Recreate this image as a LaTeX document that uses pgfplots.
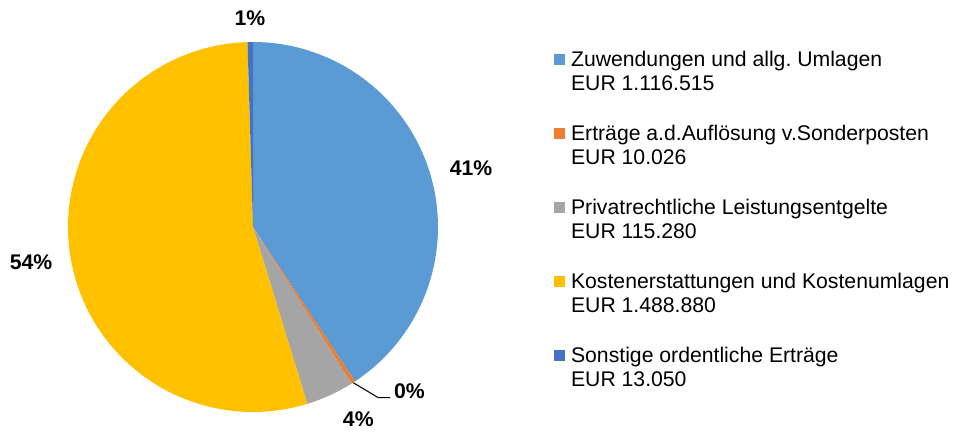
\documentclass[border=0pt]{standalone}
\usepackage{fontspec}
\setmainfont{Liberation Sans}
\usepackage{pgfplots}
\pgfplotsset{compat=1.18}
\definecolor{cA}{HTML}{5B9BD5}
\definecolor{cB}{HTML}{ED7D31}
\definecolor{cC}{HTML}{A5A5A5}
\definecolor{cD}{HTML}{FFC000}
\definecolor{cE}{HTML}{4472C4}
% values in thousand EUR
\def\vA{1116.515}
\def\vB{10.026}
\def\vC{115.280}
\def\vD{1488.880}
\def\vE{13.050}
\pgfmathsetmacro\tot{\vA+\vB+\vC+\vD+\vE}
\pgfmathsetmacro\aA{90}
\pgfmathsetmacro\aB{\aA-360*(\vA/\tot)}
\pgfmathsetmacro\aC{\aB-360*(\vB/\tot)}
\pgfmathsetmacro\aD{\aC-360*(\vC/\tot)}
\pgfmathsetmacro\aE{\aD-360*(\vD/\tot)}
\pgfmathsetmacro\aF{-270}
\newcommand\lfont{\fontsize{15.9pt}{18pt}\selectfont}
\newcommand\firstl{\rule[-4pt]{0pt}{18pt}}
\newcommand\secl{\rule[-23.5pt]{0pt}{37.5pt}}
\frenchspacing
\begin{document}
\frenchspacing
\begin{tikzpicture}
\begin{axis}[
  width=716.25pt, height=324.75pt, scale only axis,
  xmin=0, xmax=955, ymin=0, ymax=433,
  axis lines=none, clip=false,
  legend image code/.code={\path[#1] (0pt,1.5pt) rectangle (8pt,9.5pt);},
  legend style={at={(axis description cs:0.5801,0.8891)}, anchor=north west,
    draw=none, fill=none, inner sep=0pt, outer sep=0pt,
    font=\lfont, row sep=0pt, column sep=4.8pt,
    cells={anchor=base west},
    nodes={inner sep=0pt, outer sep=0pt, text depth=, text height=}},
]
\path (axis cs:0,0) rectangle (axis cs:955,433);
\addplot[fill=cA, draw=none, domain=\aB:\aA, samples=120] ({253+185*cos(x)},{206+185*sin(x)}) -- (axis cs:253,206) -- cycle;
\addlegendentry{\firstl Zuwendungen und allg.\ Umlagen}
\addlegendimage{empty legend}
\addlegendentry{\secl EUR 1.116.515}
\addplot[fill=cB, draw=none, domain=\aC:\aB, samples=10] ({253+185*cos(x)},{206+185*sin(x)}) -- (axis cs:253,206) -- cycle;
\addlegendentry{\firstl Erträge a.d.Auflösung v.Sonderposten}
\addlegendimage{empty legend}
\addlegendentry{\secl EUR 10.026}
\addplot[fill=cC, draw=none, domain=\aD:\aC, samples=20] ({253+185*cos(x)},{206+185*sin(x)}) -- (axis cs:253,206) -- cycle;
\addlegendentry{\firstl Privatrechtliche Leistungsentgelte}
\addlegendimage{empty legend}
\addlegendentry{\secl EUR 115.280}
\addplot[fill=cD, draw=none, domain=\aE:\aD, samples=150] ({253+185*cos(x)},{206+185*sin(x)}) -- (axis cs:253,206) -- cycle;
\addlegendentry{\firstl Kostenerstattungen und Kostenumlagen}
\addlegendimage{empty legend}
\addlegendentry{\secl EUR 1.488.880}
\addplot[fill=cE, draw=none, domain=\aF:\aE, samples=10] ({253+185*cos(x)},{206+185*sin(x)}) -- (axis cs:253,206) -- cycle;
\addlegendentry{\firstl Sonstige ordentliche Erträge}
\addlegendimage{empty legend}
\addlegendentry{\firstl EUR 13.050}
\draw[black, line width=0.75pt] (axis cs:353.3,50.3) -- (axis cs:378.3,35.3) -- (axis cs:390,35.3);
\begin{scope}[every node/.style={font=\bfseries\lfont, inner sep=0pt}]
\node at (axis cs:471,265) {41\%};
\node at (axis cs:31,171) {54\%};
\node at (axis cs:250,414.5) {1\%};
\node at (axis cs:409.5,41.7) {0\%};
\node at (axis cs:358.3,14) {4\%};
\end{scope}
\end{axis}
\end{tikzpicture}
\end{document}
